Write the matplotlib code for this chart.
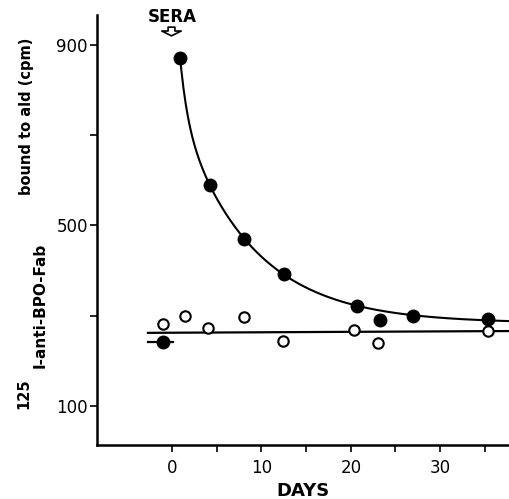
import numpy as np
import matplotlib.pyplot as plt
from matplotlib.path import Path

# filled circles: 125I-anti-BPO-Fab bound (cpm) vs days
filled_days = [-1.0, 0.9, 4.2, 8.1, 12.5, 20.7, 23.3, 27.0, 35.4]
filled_cpm = [241, 871, 590, 470, 392, 321, 290, 299, 292]

# open circles: control
open_days = [-1.0, 1.5, 4.0, 8.1, 12.4, 20.4, 23.0, 35.4]
open_cpm = [281, 299, 273, 297, 244, 268, 239, 266]

# control baseline and pre-serum bar
baseline_days = [-2.7, 37.7]
baseline_cpm = [262, 266]
pre_days = [-2.7, 0.1]
pre_cpm = [241, 241]

y_ticks = [100, 300, 500, 700, 900]
y_labels = ["100", "", "500", "", "900"]
x_ticks = [0, 5, 10, 15, 20, 25, 30, 35]
x_labels = ["0", "", "10", "", "20", "", "30", ""]

W, H = 509, 499


def fit_biexp(t, y):
    # least squares fit of y = c + a1*exp(-k1 t) + a2*exp(-k2 t), a's >= 0
    t = np.asarray(t, float)
    y = np.asarray(y, float)
    best = None
    for k1 in np.linspace(0.05, 1.5, 146):
        for k2 in np.linspace(0.005, 0.3, 60):
            if k2 >= k1:
                continue
            A = np.column_stack([np.ones_like(t), np.exp(-k1 * t), np.exp(-k2 * t)])
            coef = np.linalg.lstsq(A, y, rcond=None)[0]
            if np.any(coef < 0):
                continue
            err = np.sum((A @ coef - y) ** 2)
            if best is None or err < best[0]:
                best = (err, k1, k2, coef)
    return best[1:]


fd = np.array(filled_days)
fc = np.array(filled_cpm)
mask = (fd > 0) & (fd != 23.3)
k1, k2, coef = fit_biexp(fd[mask], fc[mask])
tt = np.linspace(fd[mask][0], 37.7, 300)
yy = coef[0] + coef[1] * np.exp(-k1 * tt) + coef[2] * np.exp(-k2 * tt)

fig = plt.figure(figsize=(W / 100, H / 100), dpi=100)
ax = fig.add_axes([97 / W, 1 - 445 / H, 1 - 97 / W, (445 - 15) / H])

ax.plot(tt, yy, color="black", lw=1.5)
ax.plot(baseline_days, baseline_cpm, color="black", lw=1.6)
ax.plot(pre_days, pre_cpm, color="black", lw=1.6)
ax.plot(filled_days, filled_cpm, "o", color="black", ms=9, zorder=3)
ax.plot(open_days, open_cpm, "o", mfc="white", mec="black", mew=1.5, ms=7.5, zorder=3)

ax.set_xlim(-8.4, 37.7)
ax.set_ylim(13.6, 966)
ax.spines["top"].set_visible(False)
ax.spines["right"].set_visible(False)
ax.spines["left"].set_linewidth(1.8)
ax.spines["bottom"].set_linewidth(1.8)
ax.set_xticks(x_ticks)
ax.set_xticklabels(x_labels)
ax.set_yticks(y_ticks)
ax.set_yticklabels(y_labels)
ax.tick_params(axis="both", direction="out", length=5, width=1.2, labelsize=12)
ax.tick_params(axis="x", pad=5)
ax.tick_params(axis="y", pad=1.5)

ax.set_xlabel("DAYS", fontsize=13, fontweight="bold", labelpad=3.5)

# y label in three pieces, as in the original typesetting
fig.text(27 / W, 1 - 38 / H, "bound to ald (cpm)", rotation=90, ha="center",
         va="top", fontsize=10.5, fontweight="bold")
fig.text(40 / W, 1 - 243 / H, "I-anti-BPO-Fab", rotation=90, ha="center",
         va="top", fontsize=11, fontweight="bold")
fig.text(24 / W, 1 - 378 / H, "125", rotation=90, ha="center",
         va="top", fontsize=10.5, fontweight="bold")

# serum injection marker
ax.text(0.0, 961, "SERA", fontsize=12, fontweight="bold", ha="center", va="center",
        clip_on=False)
arrow_path = Path([(-0.35, 0.45), (0.35, 0.45), (0.35, 0.05), (1.0, 0.05),
                   (0.0, -0.45), (-1.0, 0.05), (-0.35, 0.05), (-0.35, 0.45)],
                  closed=True)
ax.plot([-0.1], [931], marker=arrow_path, ms=14, mfc="white", mec="black",
        mew=1.2, clip_on=False)

fig.savefig("out.png", dpi=100)
